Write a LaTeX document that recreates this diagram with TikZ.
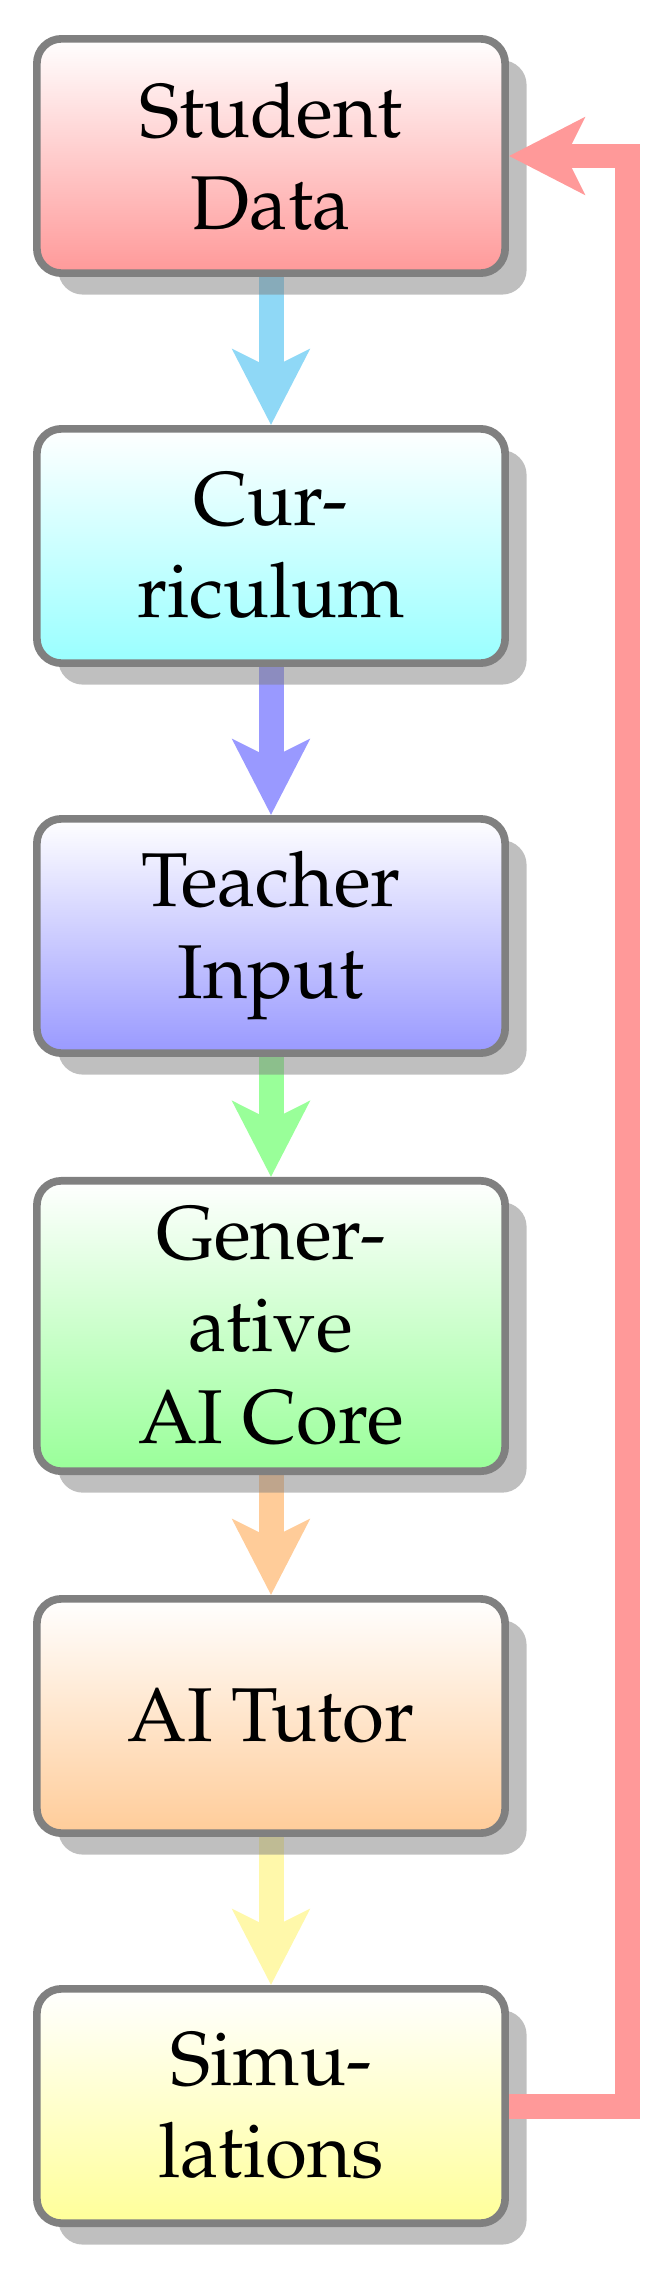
\documentclass[tikz,border=0pt]{standalone}
\usepackage[T1]{fontenc}
\usepackage{mathpazo}
\usetikzlibrary{arrows.meta,shadows,backgrounds}
\definecolor{skyarrow}{RGB}{143,216,246}
\definecolor{yelarrow}{RGB}{255,248,170}
\begin{document}
\begin{tikzpicture}[x=0.32609pt,y=-0.32609pt,
  box/.style={draw=black!50, line width=2.5pt, rounded corners=8pt,
    minimum width=152.7pt, minimum height=76.4pt, align=center,
    font=\Huge, inner sep=0pt, top color=white,
    drop shadow={shadow xshift=7pt, shadow yshift=-7pt, opacity=.5, fill=black!50}},
  flow/.style={line width=8.15pt, -{Stealth[length=24.5pt,width=24.8pt,inset=6pt]}}]
\useasboundingbox (0,0) rectangle (666,2276);
\node[box, bottom color=red!40]    (sd)  at (271,156)  {Student\\Data};
\node[box, bottom color=cyan!40]   (cur) at (271,546)  {Cur-\\riculum};
\node[box, bottom color=blue!40]   (ti)  at (271,936)  {Teacher\\Input};
\node[box, bottom color=green!40, minimum height=94.7pt] (gen) at (271,1326) {Gener-\\ative\\AI Core};
\node[box, bottom color=orange!40] (tut) at (271,1716) {AI Tutor};
\node[box, bottom color=yellow!40] (sim) at (271,2106) {Simu-\\lations};
\begin{scope}[on background layer]
  \draw[flow, draw=skyarrow] (sd) -- (cur);
  \draw[flow, draw=blue!40] (cur) -- (ti);
  \draw[flow, draw=green!40] (ti) -- (gen);
  \draw[flow, draw=orange!40] (gen) -- (tut);
  \draw[flow, draw=yelarrow] (tut) -- (sim);
\end{scope}
\coordinate (c1) at (627,2106);
\coordinate (c2) at (627,156);
\draw[flow, draw=red!40] (sim.east) -- (c1) -- (c2) -- (sd.east);
\end{tikzpicture}
\end{document}
